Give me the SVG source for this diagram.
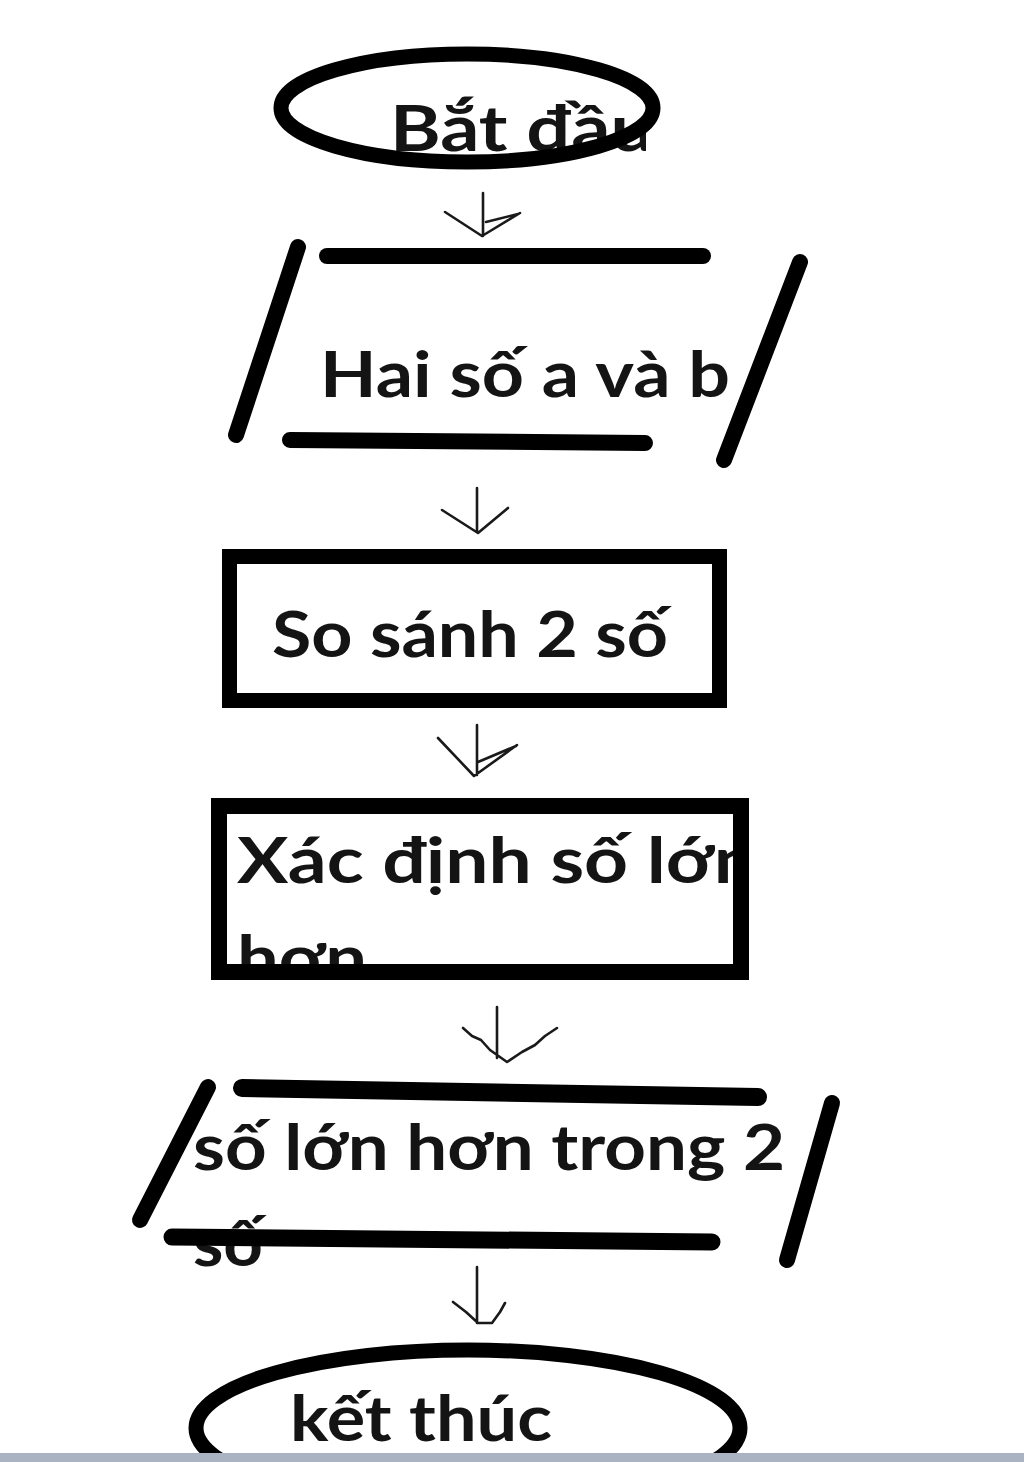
<svg xmlns="http://www.w3.org/2000/svg" width="1024" height="1462" viewBox="0 0 1024 1462">
<style>
.shape{fill:none;stroke:#000;stroke-width:15;stroke-linecap:round}
.bar{fill:none;stroke:#000;stroke-width:16;stroke-linecap:round}
.lbl{font-family:Lato,"Open Sans","DejaVu Sans",sans-serif;font-size:64px;font-weight:bold;fill:#141414}
.arr{fill:none;stroke:#1a1a1a;stroke-width:2.6;stroke-linecap:round;stroke-linejoin:round}
</style>
<defs>
<clipPath id="clipStart"><rect x="380" y="60" width="266" height="110"/></clipPath>
<clipPath id="clipR2"><rect x="226" y="812" width="508" height="153"/></clipPath>
</defs>
<rect x="0" y="0" width="1024" height="1462" fill="#fff"/>

<g id="start">
<text class="lbl" x="390" y="151" textLength="264" lengthAdjust="spacingAndGlyphs" clip-path="url(#clipStart)">Bắt đầu</text>
<ellipse class="shape" cx="467" cy="108" rx="186" ry="54"/>
</g>

<g id="input">
<line class="bar" x1="327" y1="256" x2="703" y2="256"/>
<line class="bar" x1="290" y1="440" x2="645" y2="443"/>
<line class="bar" x1="298" y1="247" x2="236" y2="435"/>
<line class="bar" x1="800" y1="262" x2="724" y2="460"/>
<text class="lbl" x="320" y="397" textLength="410" lengthAdjust="spacingAndGlyphs">Hai số a và b</text>
</g>

<g id="compare">
<rect class="shape" x="229.5" y="556.5" width="490" height="144" style="stroke-linecap:butt"/>
<text class="lbl" x="272" y="657" textLength="396" lengthAdjust="spacingAndGlyphs">So sánh 2 số</text>
</g>

<g id="determine">
<g clip-path="url(#clipR2)">
<text class="lbl" x="237" y="883" textLength="520" lengthAdjust="spacingAndGlyphs">Xác định số lớn</text>
<text class="lbl" x="237" y="981" textLength="130" lengthAdjust="spacingAndGlyphs">hơn</text>
</g>
<rect class="shape" x="219" y="806" width="522" height="166" style="stroke-width:16;stroke-linecap:butt"/>
</g>

<g id="output">
<text class="lbl" x="193" y="1170" textLength="592" lengthAdjust="spacingAndGlyphs">số lớn hơn trong 2</text>
<text class="lbl" x="193" y="1266" textLength="70" lengthAdjust="spacingAndGlyphs">số</text>
<line class="bar" x1="242" y1="1088" x2="758" y2="1097" style="stroke-width:18"/>
<line class="bar" x1="208" y1="1087" x2="140" y2="1220"/>
<line class="bar" x1="832" y1="1103" x2="787" y2="1260"/>
<line class="bar" x1="172" y1="1237" x2="712" y2="1242" style="stroke-width:17"/>
</g>

<g id="end">
<ellipse class="shape" cx="468" cy="1428" rx="272" ry="78"/>
<text class="lbl" x="290" y="1441" textLength="262" lengthAdjust="spacingAndGlyphs">kết thúc</text>
</g>

<g id="connectors">
<path class="arr" d="M483 193 L483 236 M445 212 L482 236 L520 213 M486 222 L518 214"/>
<path class="arr" d="M477 488 L477 532 M442 510 L478 533 L508 508"/>
<path class="arr" d="M477 725 L477 775 M438 738 L474 776 L517 745 M478 762 L516 746"/>
<path class="arr" d="M497 1007 L497 1058 M463 1028 L472 1036 L481 1040 L490 1050 L507 1062 L522 1052 L535 1045 L545 1036 L557 1028"/>
<path class="arr" d="M477 1267 L477 1323 M453 1302 L466 1312 L478 1323 L492 1323 L500 1312 L505 1303"/>
</g>

<rect x="0" y="1453" width="1024" height="9" fill="#a9b3c1"/>
</svg>
